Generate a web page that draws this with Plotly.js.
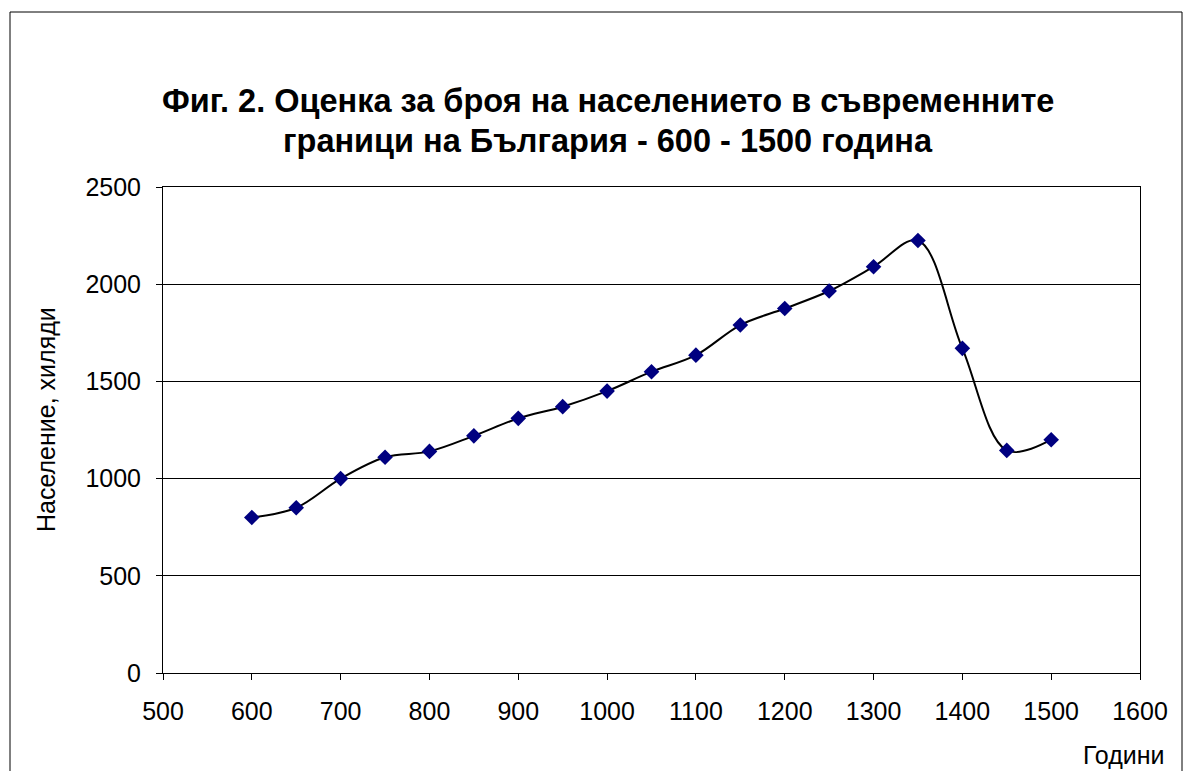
<!DOCTYPE html>
<html>
<head>
<meta charset="utf-8">
<script src="https://cdn.plot.ly/plotly-3.0.1.min.js"></script>
<style>
html,body{margin:0;padding:0;background:#fff;}
#chart{width:1192px;height:771px;}
</style>
</head>
<body>
<div id="chart"></div>
<script>
const years = [600, 650, 700, 750, 800, 850, 900, 950, 1000, 1050, 1100, 1150, 1200, 1250, 1300, 1350, 1400, 1450, 1500];
const population = [800, 850, 1000, 1110, 1140, 1220, 1310, 1370, 1450, 1550, 1635, 1790, 1875, 1965, 2090, 2225, 1670, 1145, 1200];
const titleLine1 = "Фиг. 2. Оценка за броя на населението в съвременните";
const titleLine2 = "граници на България - 600 - 1500 година";
const xTitle = "Години";
const yTitle = "Население, хиляди";

const font = "Arial, 'Liberation Sans', sans-serif";
const L = 163, R = 1140, T = 187, B = 673;
const W = R - L, H = B - T;
const px = v => (v - L) / W;
const py = v => (B - v) / H;

const trace = {
  x: years, y: population,
  type: "scatter", mode: "lines+markers",
  line: {color: "#000000", width: 2, shape: "spline", smoothing: 1},
  marker: {symbol: "diamond", color: "#000080", size: 12},
  hoverinfo: "x+y"
};

const layout = {
  width: 1192, height: 771,
  margin: {l: L, r: 1192 - R, t: T, b: 771 - B},
  paper_bgcolor: "#ffffff", plot_bgcolor: "#ffffff",
  showlegend: false,
  font: {family: font, size: 25, color: "#000"},
  xaxis: {
    range: [500, 1600], dtick: 100, tick0: 500,
    showgrid: false, zeroline: false,
    showline: true, linecolor: "#000", linewidth: 1, mirror: true,
    ticks: "outside", ticklen: 6, tickcolor: "#000",
    ticklabelstandoff: 10,
    tickfont: {family: font, size: 25, color: "#000"}
  },
  yaxis: {
    range: [0, 2500], dtick: 500, tick0: 0,
    showgrid: true, gridcolor: "#000", gridwidth: 1, zeroline: false,
    showline: true, linecolor: "#000", linewidth: 1, mirror: true,
    ticks: "outside", ticklen: 6, tickcolor: "#000",
    ticklabelstandoff: 10,
    tickfont: {family: font, size: 25, color: "#000"}
  },
  annotations: [
    {text: "<b>" + titleLine1 + "</b>", xref: "paper", yref: "paper",
     x: px(608), y: py(101), xanchor: "center", yanchor: "middle",
     showarrow: false, font: {family: font, size: 32.5, color: "#000"}},
    {text: "<b>" + titleLine2 + "</b>", xref: "paper", yref: "paper",
     x: px(608), y: py(141), xanchor: "center", yanchor: "middle",
     showarrow: false, font: {family: font, size: 32.5, color: "#000"}},
    {text: yTitle, xref: "paper", yref: "paper", textangle: -90,
     x: px(46), y: py(420), xanchor: "center", yanchor: "middle",
     showarrow: false, font: {family: font, size: 25, color: "#000"}},
    {text: xTitle, xref: "paper", yref: "paper",
     x: px(1167), y: py(755), xanchor: "right", yanchor: "middle",
     showarrow: false, font: {family: font, size: 25, color: "#000"}}
  ],
  shapes: [
    {type: "rect", xref: "paper", yref: "paper",
     x0: px(10), x1: px(1182), y0: py(800), y1: py(12),
     line: {color: "#000", width: 1}, fillcolor: "rgba(0,0,0,0)", layer: "below"}
  ]
};

Plotly.newPlot("chart", [trace], layout, {displayModeBar: false, staticPlot: true});
</script>
</body>
</html>
